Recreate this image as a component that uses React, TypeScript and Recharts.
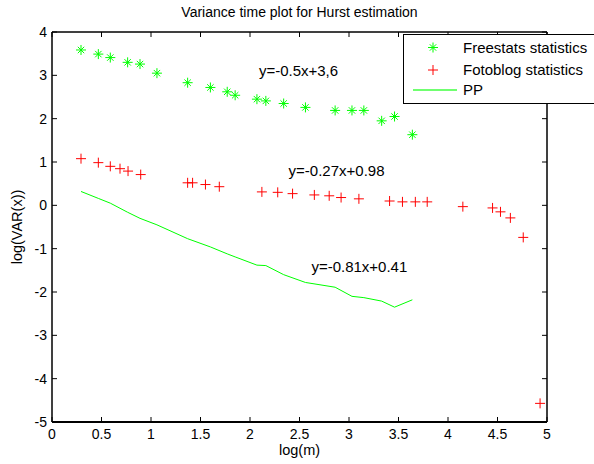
import React from "react";
import {
  ComposedChart,
  XAxis,
  YAxis,
  Scatter,
  Line,
  ReferenceDot,
  ReferenceArea,
  Label,
} from "recharts";

// values
const freestatsX = [0.293, 0.468, 0.589, 0.764, 0.889, 1.06, 1.37, 1.6, 1.77, 1.85, 2.07, 2.16, 2.34, 2.56, 2.86, 3.03, 3.15, 3.33, 3.46, 3.64];
const freestatsY = [3.585, 3.49, 3.41, 3.3, 3.26, 3.05, 2.83, 2.72, 2.62, 2.54, 2.45, 2.41, 2.35, 2.26, 2.19, 2.19, 2.19, 1.95, 2.05, 1.63];

const fotoblogX = [0.293, 0.468, 0.589, 0.687, 0.768, 0.896, 1.37, 1.42, 1.55, 1.69, 2.12, 2.28, 2.43, 2.65, 2.8, 2.92, 3.1, 3.41, 3.54, 3.67, 3.79, 4.15, 4.45, 4.53, 4.63, 4.76, 4.93];
const fotoblogY = [1.077, 0.985, 0.9, 0.846, 0.79, 0.71, 0.52, 0.52, 0.48, 0.43, 0.31, 0.3, 0.27, 0.24, 0.22, 0.18, 0.15, 0.1, 0.08, 0.08, 0.08, -0.03, -0.06, -0.15, -0.29, -0.74, -4.57];

// PP line shares the Freestats x positions
const ppY = [0.32, 0.16, 0.05, -0.16, -0.3, -0.45, -0.77, -0.96, -1.12, -1.19, -1.38, -1.39, -1.6, -1.78, -1.89, -2.1, -2.13, -2.21, -2.35, -2.18];

const xTicks = [0, 0.5, 1, 1.5, 2, 2.5, 3, 3.5, 4, 4.5, 5];
const yTicks = [-5, -4, -3, -2, -1, 0, 1, 2, 3, 4];

const fitLabels = [
  { x: 2.09, y: 3.11, text: "y=-0.5x+3,6" },
  { x: 2.39, y: 0.79, text: "y=-0.27x+0.98" },
  { x: 2.62, y: -1.42, text: "y=-0.81x+0.41" },
];

const FONT = '"Liberation Sans", Arial, Helvetica, sans-serif';
const GREEN = "#00ff00";
const RED = "#ff0000";

const freestats = freestatsX.map((x, i) => ({ x, y: freestatsY[i] }));
const fotoblog = fotoblogX.map((x, i) => ({ x, y: fotoblogY[i] }));
const pp = freestatsX.map((x, i) => ({ x, y: ppY[i] }));

function Star({ cx, cy }: { cx?: number; cy?: number }) {
  if (cx == null || cy == null) return null;
  return (
    <g stroke={GREEN} strokeWidth={1}>
      <line x1={cx - 5} y1={cy} x2={cx + 5} y2={cy} />
      <line x1={cx} y1={cy - 5} x2={cx} y2={cy + 5} />
      <line x1={cx - 3.2} y1={cy - 3.2} x2={cx + 3.2} y2={cy + 3.2} />
      <line x1={cx - 3.2} y1={cy + 3.2} x2={cx + 3.2} y2={cy - 3.2} />
    </g>
  );
}

function Plus({ cx, cy }: { cx?: number; cy?: number }) {
  if (cx == null || cy == null) return null;
  return (
    <g stroke={RED} strokeWidth={1}>
      <line x1={cx - 5} y1={cy} x2={cx + 5} y2={cy} />
      <line x1={cx} y1={cy - 5} x2={cx} y2={cy + 5} />
    </g>
  );
}

// matlab style: tick marks point into the plot, labels outside
function BottomTick(props: any) {
  const { x, y, payload } = props;
  return (
    <g>
      <line x1={x} y1={y} x2={x} y2={y - 5} stroke="#000" strokeWidth={1} />
      <text x={x} y={y + 17} textAnchor="middle" fontSize={14} fontFamily={FONT} fill="#000">
        {payload.value}
      </text>
    </g>
  );
}

function LeftTick(props: any) {
  const { x, y, payload } = props;
  return (
    <g>
      <line x1={x} y1={y} x2={x + 5} y2={y} stroke="#000" />
      <text x={x - 5} y={y} dy="0.36em" textAnchor="end" fontSize={14} fontFamily={FONT} fill="#000">
        {payload.value}
      </text>
    </g>
  );
}

const legendItems = [
  { name: "Freestats statistics", kind: "star" },
  { name: "Fotoblog statistics", kind: "plus" },
  { name: "PP", kind: "line" },
];

function LegendBox() {
  const rows = [13.5, 36, 56];
  return (
    <svg width={191} height={71} style={{ position: "absolute", left: 403, top: 34 }}>
      <rect x={0.5} y={0.5} width={220} height={69} fill="#fff" stroke="#000" />
      {legendItems.map((it, i) => (
        <g key={it.name}>
          {it.kind === "star" && <Star cx={30} cy={rows[i]} />}
          {it.kind === "plus" && <Plus cx={30} cy={rows[i]} />}
          {it.kind === "line" && <line x1={10} y1={rows[i]} x2={54} y2={rows[i]} stroke="#70ff70" strokeWidth={2} />}
          <text x={60} y={rows[i]} dy="0.36em" fontSize={15} fontFamily={FONT} fill="#000">
            {it.name}
          </text>
        </g>
      ))}
    </svg>
  );
}

const axisLineStyle = { stroke: "#000", strokeWidth: 1 };
const tickLineStyle = { stroke: "#000", strokeWidth: 1 };

export default function App() {
  return (
    <div style={{ position: "absolute", left: 0, top: 0, width: 594, height: 464, overflow: "hidden", background: "#fff" }}>
      <ComposedChart width={594} height={464} margin={{ top: 31, right: 46, bottom: 12, left: 12 }}>
        <XAxis
          xAxisId={0}
          dataKey="x"
          type="number"
          domain={[0, 5]}
          ticks={xTicks}
          interval={0}
          height={30}
          tickSize={0}
          tickMargin={0}
          tickLine={false}
          tick={<BottomTick />}
          axisLine={axisLineStyle}
        >
          <Label value="log(m)" position="bottom" offset={-7} fill="#000" fontSize={14.5} fontFamily={FONT} />
        </XAxis>
        <XAxis
          xAxisId="top"
          orientation="top"
          dataKey="x"
          type="number"
          domain={[0, 5]}
          ticks={xTicks}
          interval={0}
          height={1}
          tickSize={-5}
          tickFormatter={() => ""}
          axisLine={axisLineStyle}
          tickLine={tickLineStyle}
        >
          <Label
            value="Variance time plot for Hurst estimation"
            position="top"
            offset={14}
            fill="#000"
            fontSize={14}
            fontFamily={FONT}
          />
        </XAxis>
        <YAxis
          yAxisId={0}
          dataKey="y"
          type="number"
          domain={[-5, 4]}
          ticks={yTicks}
          interval={0}
          width={40}
          tickSize={0}
          tickMargin={0}
          tickLine={false}
          tick={<LeftTick />}
          axisLine={axisLineStyle}
        >
          <Label
            content={(props: any) => {
              const vb = props.viewBox || {};
              const cx = vb.x + 5;
              const cy = vb.y + vb.height / 2;
              return (
                <text
                  x={cx}
                  y={cy}
                  transform={`rotate(-90 ${cx} ${cy})`}
                  textAnchor="middle"
                  dominantBaseline="central"
                  fontSize={14.5}
                  fontFamily={FONT}
                  fill="#000"
                >
                  log(VAR(x))
                </text>
              );
            }}
          />
        </YAxis>
        <YAxis
          yAxisId="right"
          orientation="right"
          dataKey="y"
          type="number"
          domain={[-5, 4]}
          ticks={yTicks}
          interval={0}
          width={1}
          tickSize={-5}
          tickFormatter={() => ""}
          axisLine={axisLineStyle}
          tickLine={tickLineStyle}
        />
        <ReferenceArea
          x1={0}
          x2={5}
          y1={-5}
          y2={4}
          fill="none"
          stroke="#000"
          strokeWidth={1}
          ifOverflow="visible"
        />
        <Line
          data={pp}
          xAxisId="top"
          yAxisId="right"
          dataKey="y"
          type="linear"
          stroke={GREEN}
          strokeWidth={1}
          dot={false}
          activeDot={false}
          isAnimationActive={false}
        />
        <Scatter data={freestats} dataKey="y" shape={(p: any) => <Star cx={p.cx} cy={p.cy} />} isAnimationActive={false} />
        <Scatter data={fotoblog} dataKey="y" shape={(p: any) => <Plus cx={p.cx} cy={p.cy} />} isAnimationActive={false} />
        {fitLabels.map((f) => (
          <ReferenceDot
            key={f.text}
            x={f.x}
            y={f.y}
            r={0}
            fill="none"
            stroke="none"
            label={{ value: f.text, position: "right", offset: 0, fill: "#000", fontSize: 15, fontFamily: FONT }}
          />
        ))}
      </ComposedChart>
      {/* bottom edge of the axes box */}
      <div style={{ position: "absolute", left: 52, top: 421, width: 495, height: 2, background: "#000" }} />
      <LegendBox />
    </div>
  );
}
